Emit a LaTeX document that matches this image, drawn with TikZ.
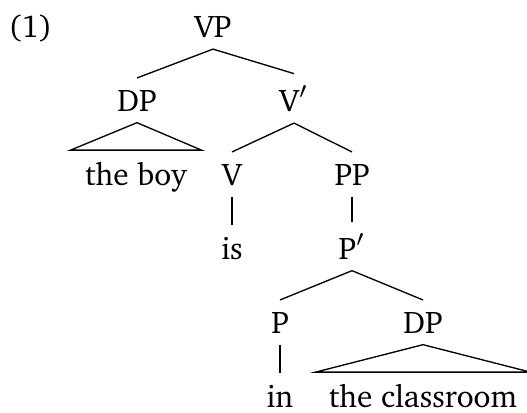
\documentclass[tikz,border=0pt]{standalone}
\usepackage[T1]{fontenc}
\usepackage{charter}
\tikzset{cat/.style={anchor=base, inner sep=3.3pt, font=\fontsize{9.4}{11}\selectfont}}

\begin{document}
\begin{tikzpicture}[x=0.3pt, y=-0.3pt]
		%%%%% START %%%%%
		\useasboundingbox (0, 0) rectangle (527, 412);
		
		\node[cat, anchor=base west, inner sep=0pt] (ex) at (8, 37) {(1)};
		
		\node[cat] (vp) at (213, 37) {VP};
		\node[cat] (dp) at (137, 111) {DP};
		\node[cat] (vbar) at (294, 111) {V$'$};
		\draw (vp.south) -- (dp.north);
		\draw (vp.south) -- (vbar.north);
		
		\node[cat, inner xsep=4.2pt] (boy) at (136, 185) {the boy};
		\draw (dp.south) -- (boy.north west) -- (boy.north east) -- cycle;
		
		\node[cat] (v) at (232, 185) {V};
		\node[cat] (pp) at (352, 185) {PP};
		\draw (vbar.south) -- (v.north);
		\draw (vbar.south) -- (pp.north);
		
		\node[cat] (is) at (232, 259) {is};
		\draw (v.south) -- (is.north);
		
		\node[cat] (pbar) at (352, 259) {P$'$};
		\draw (pp.south) -- (pbar.north);
		
		\node[cat] (p) at (280, 333) {P};
		\node[cat] (dp2) at (423, 333) {DP};
		\draw (pbar.south) -- (p.north);
		\draw (pbar.south) -- (dp2.north);
		
		\node[cat] (in) at (280, 407) {in};
		\draw (p.south) -- (in.north);
		
		\node[cat, inner xsep=3.8pt] (room) at (423, 407) {the classroom};
		\draw (dp2.south) -- (room.north west) -- (room.north east) -- cycle;
		%%%%% END %%%%%
\end{tikzpicture}
\end{document}
